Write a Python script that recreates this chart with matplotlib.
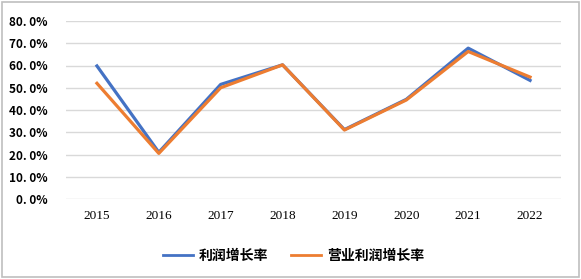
import matplotlib.pyplot as plt
from matplotlib.patches import Rectangle

plt.rcParams['font.family'] = ['Noto Sans CJK SC', 'DejaVu Sans']

years = ['2015', '2016', '2017', '2018', '2019', '2020', '2021', '2022']
profit_growth = [59.8, 21.0, 51.5, 60.3, 31.2, 44.8, 67.8, 53.3]
op_profit_growth = [52.0, 20.5, 50.0, 60.3, 31.0, 44.5, 66.3, 54.8]
series_names = ['利润增长率', '营业利润增长率']

fig = plt.figure(figsize=(5.81, 2.79), dpi=100)
ax = fig.add_axes([66/581, 1-199/279, 495/581, 178/279])

x = range(len(years))
ax.plot(x, profit_growth, color='#4472C4', lw=2.3, label=series_names[0])
ax.plot(x, op_profit_growth, color='#ED7D31', lw=2.3, label=series_names[1])

ax.set_xlim(-0.5, len(years) - 0.5)
ax.set_ylim(0, 80)
ax.set_yticks(range(0, 81, 10))
ax.set_yticklabels(['%d. 0%%' % v for v in range(0, 81, 10)], fontsize=8.5, fontweight='bold')
ax.set_xticks(list(x))
ax.set_xticklabels(years, fontsize=9.5, family='Liberation Serif')
ax.grid(axis='y', color='#d9d9d9', lw=1)
ax.set_axisbelow(True)
for s in ax.spines.values():
    s.set_visible(False)
ax.tick_params(length=0, pad=8)
ax.tick_params(axis='y', pad=13)

leg = fig.legend(loc='center', bbox_to_anchor=(0.505, 1-256/279), ncol=2, frameon=False,
                 prop={'size': 10, 'weight': 'bold'}, handlelength=2.2, handletextpad=0.4,
                 columnspacing=1.6)
for h in leg.get_lines():
    h.set_linewidth(2)

fig.patches.append(Rectangle((0.004, 0.006), 0.992, 0.988, transform=fig.transFigure,
                             fill=False, edgecolor='#bfbfbf', lw=1.2))

fig.savefig('out.png', dpi=100)
